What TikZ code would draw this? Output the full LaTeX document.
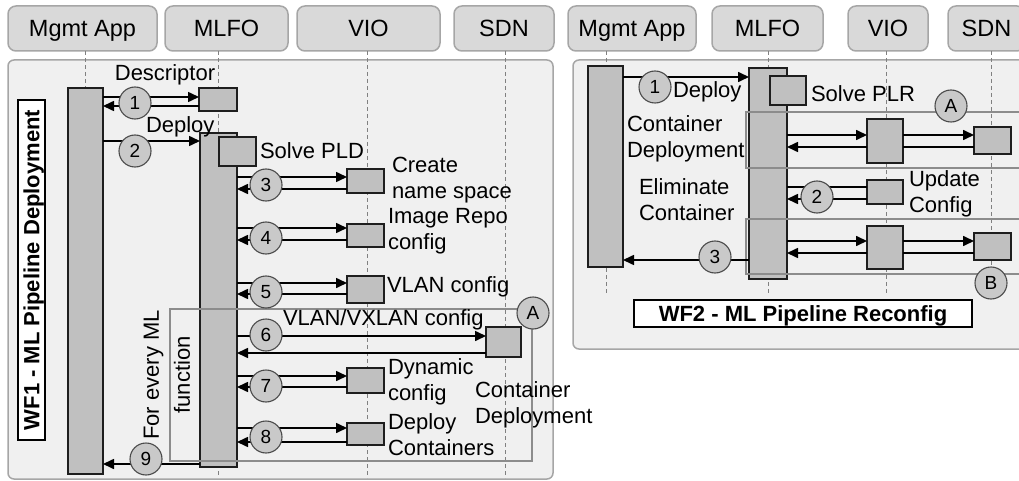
\documentclass[tikz,border=0pt]{standalone}
\usepackage{fontspec}
\setmainfont{Liberation Sans}
\usetikzlibrary{arrows.meta}
\definecolor{panelfill}{HTML}{F0F0F0}
\definecolor{headfill}{HTML}{D9D9D9}
\definecolor{headline}{HTML}{A6A6A6}
\definecolor{barfill}{HTML}{C0C0C0}
\definecolor{framegray}{HTML}{8C8C8C}
\definecolor{lifegray}{HTML}{808080}
\definecolor{inkline}{HTML}{1E1E1E}

\begin{document}
\begin{tikzpicture}[x=1pt,y=-1pt,
  every node/.style={font=\fontsize{22}{26}\selectfont, inner sep=0pt, outer sep=0pt},
  header/.style={draw=headline, fill=headfill, line width=1.5pt, rounded corners=8pt,
    anchor=north west, font=\fontsize{23.5}{26}\selectfont, text height=16.8pt, text depth=0pt},
  panel/.style={draw=headline, fill=panelfill, line width=1.5pt, rounded corners=6pt, anchor=north west},
  life/.style={draw=lifegray, line width=0.8pt, dash pattern=on 4pt off 3pt},
  bar/.style={draw=inkline, fill=barfill, line width=1.5pt, anchor=north west},
  frame/.style={draw=framegray, line width=1.2pt, anchor=north west},
  msg/.style={draw=black, line width=1.6pt, -{Triangle[length=11pt,width=10pt]}},
  plain/.style={draw=black, line width=1.6pt},
  num/.style={circle, draw=inkline!80, fill=barfill!85, line width=1.1pt, minimum size=32pt,
    font=\fontsize{19}{20}\selectfont},
  lbl/.style={anchor=west, align=left},
  title/.style={draw=black, fill=white, line width=1.4pt, font=\bfseries\fontsize{22}{24}\selectfont,
    text height=15.8pt, text depth=0pt}
]
\useasboundingbox (0,0) rectangle (1019,481);

% ---------------- panels ----------------
\node[panel, minimum width=545, minimum height=419] (pL) at (8,60) {};
\node[panel, minimum width=470, minimum height=289] (pR) at (573,60) {};

% ---------------- headers ----------------
\node[header, minimum width=149, minimum height=45] (hMgA) at (8,6) {Mgmt App};
\node[header, minimum width=123, minimum height=45] (hMlA) at (165,6) {MLFO};
\node[header, minimum width=143, minimum height=45] (hViA) at (297,6) {VIO};
\node[header, minimum width=100, minimum height=45] (hSdA) at (454,6) {SDN};
\node[header, minimum width=128, minimum height=45] (hMgB) at (568,6) {Mgmt App};
\node[header, minimum width=111, minimum height=45] (hMlB) at (712,6) {MLFO};
\node[header, minimum width=80, minimum height=45] (hViB) at (848,6) {VIO};
\node[header, minimum width=77, minimum height=45] (hSdB) at (948,6) {SDN};

% ---------------- lifelines ----------------
\coordinate (eMgA) at (85,474);
\coordinate (eMlA) at (218,476);
\coordinate (eViA) at (367,478);
\coordinate (eSdA) at (505,478);
\coordinate (eMgB) at (606,295);
\coordinate (eMlB) at (768,295);
\coordinate (eViB) at (886,295);
\coordinate (eSdB) at (991,270);
\draw[life] (hMgA.south -| eMgA) -- (eMgA);
\draw[life] (hMlA.south -| eMlA) -- (eMlA);
\draw[life] (hViA.south -| eViA) -- (eViA);
\draw[life] (hSdA.south -| eSdA) -- (eSdA);
\draw[life] (hMgB.south -| eMgB) -- (eMgB);
\draw[life] (hMlB.south -| eMlB) -- (eMlB);
\draw[life] (hViB.south -| eViB) -- (eViB);
\draw[life] (hSdB.south -| eSdB) -- (eSdB);

% ---------------- WF1: activations ----------------
\node[bar, minimum width=35, minimum height=386] (mgA) at (68,88) {};
\node[bar, minimum width=38, minimum height=23] (desc) at (199,88) {};
\node[bar, minimum width=37, minimum height=334] (mlA) at (200,133) {};
\node[frame, minimum width=362, minimum height=152] (loop) at (170,309) {};
\node[bar, minimum width=37, minimum height=29] (pld) at (219,137) {};
\node[bar, minimum width=37, minimum height=24] (v3) at (347,169) {};
\node[bar, minimum width=37, minimum height=23] (v4) at (347,224) {};
\node[bar, minimum width=37, minimum height=27] (v5) at (347,276) {};
\node[bar, minimum width=35, minimum height=30] (s6) at (486,327) {};
\node[bar, minimum width=37, minimum height=25] (v7) at (347,368) {};
\node[bar, minimum width=37, minimum height=22] (v8) at (347,423) {};

% ---------------- WF1: messages ----------------
\draw[msg] (mgA.east |- 0,97) -- (desc.west |- 0,97);
\draw[msg] (desc.west |- 0,106) -- (mgA.east |- 0,106);
\draw[msg] (mgA.east |- 0,141) -- (mlA.west |- 0,141);
\draw[msg] (mlA.east |- 0,177) -- (v3.west |- 0,177);
\draw[msg] (v3.west |- 0,189) -- (mlA.east |- 0,189);
\draw[msg] (mlA.east |- 0,228) -- (v4.west |- 0,228);
\draw[msg] (v4.west |- 0,240) -- (mlA.east |- 0,240);
\draw[msg] (mlA.east |- 0,283) -- (v5.west |- 0,283);
\draw[msg] (v5.west |- 0,294) -- (mlA.east |- 0,294);
\draw[msg] (mlA.east |- 0,336) -- (s6.west |- 0,336);
\draw[msg] (s6.west |- 0,353) -- (mlA.east |- 0,353);
\draw[msg] (mlA.east |- 0,376) -- (v7.west |- 0,376);
\draw[msg] (v7.west |- 0,387) -- (mlA.east |- 0,387);
\draw[msg] (mlA.east |- 0,428) -- (v8.west |- 0,428);
\draw[msg] (v8.west |- 0,442) -- (mlA.east |- 0,442);
\draw[msg] (mlA.west |- 0,464) -- (mgA.east |- 0,464);

\node[num] (n1) at (135,103) {1};
\node[num] (n2) at (135,151) {2};
\node[num] (n3) at (266,185) {3};
\node[num] (n4) at (266,238) {4};
\node[num] (n5) at (266,292) {5};
\node[num] (n6) at (266,335) {6};
\node[num] (n7) at (266,386) {7};
\node[num] (n8) at (266,437) {8};
\node[num] (n9) at (146,459) {9};
\node[num] (nA1) at (533,313) {A};

% ---------------- WF1: labels ----------------
\node (tDesc) at (165,75) {Descriptor};
\node[lbl] (tDep) at (146,127) {Deploy};
\node[lbl] (tPLD) at (260,151) {Solve PLD};
\node[lbl] (t3) at (392,180) {Create\\name space};
\node[lbl] (t4) at (388,231) {Image Repo\\config};
\node[lbl] (t5) at (387,287) {VLAN config};
\node[lbl] (t6) at (283,320) {VLAN/VXLAN config};
\node[lbl] (t7) at (388,382) {Dynamic\\config};
\node[lbl] (t8) at (388,435) {Deploy\\Containers};
\node[lbl] (tCD) at (475,405) {Container\\Deployment};
\node[rotate=90, align=center, font=\fontsize{22}{31}\selectfont] (tLoop) at (167,375) {For every ML\\function};
\node[title, rotate=90, minimum width=340, minimum height=27] (wf1) at (31.5,270) {WF1 - ML Pipeline Deployment};

% ---------------- WF2: activations ----------------
\node[bar, minimum width=35, minimum height=201] (mgB) at (588,66) {};
\node[bar, minimum width=38, minimum height=211] (mlB) at (749,68) {};
\node[bar, minimum width=36, minimum height=29] (plr) at (770,76) {};
\node[bar, minimum width=36, minimum height=44] (vA) at (867,119) {};
\node[bar, minimum width=37, minimum height=27] (sA) at (974,127) {};
\node[bar, minimum width=36, minimum height=24] (v2) at (867,180) {};
\node[bar, minimum width=36, minimum height=43] (vB) at (867,226) {};
\node[bar, minimum width=37, minimum height=27] (sB) at (974,233) {};
\node[frame, minimum width=290, minimum height=56] (gA) at (746,112) {};
\node[frame, minimum width=290, minimum height=55] (gB) at (746,219) {};

% ---------------- WF2: messages ----------------
\draw[msg] (mgB.east |- 0,77) -- (mlB.west |- 0,77);
\draw[msg] (mlB.east |- 0,135) -- (vA.west |- 0,135);
\draw[msg] (vA.west |- 0,147) -- (mlB.east |- 0,147);
\draw[msg] (vA.east |- 0,135) -- (sA.west |- 0,135);
\draw[plain] (sA.west |- 0,147) -- (vA.east |- 0,147);
\draw[plain] (mlB.east |- 0,187) -- (v2.west |- 0,187);
\draw[msg] (v2.west |- 0,199) -- (mlB.east |- 0,199);
\draw[msg] (mlB.east |- 0,241) -- (vB.west |- 0,241);
\draw[msg] (vB.west |- 0,253) -- (mlB.east |- 0,253);
\draw[msg] (vB.east |- 0,241) -- (sB.west |- 0,241);
\draw[plain] (sB.west |- 0,253) -- (vB.east |- 0,253);
\draw[msg] (mlB.west |- 0,260) -- (mgB.east |- 0,260);

\node[num] (m1) at (655,87) {1};
\node[num] (m2) at (817,197) {2};
\node[num] (m3) at (715,257) {3};
\node[num] (nA2) at (951,106) {A};
\node[num] (nB) at (991,283) {B};

% ---------------- WF2: labels ----------------
\node[lbl] (uDep) at (673,92) {Deploy};
\node[lbl] (uPLR) at (811,94) {Solve PLR};
\node[lbl] (uCD) at (627,139) {Container\\Deployment};
\node[lbl] (uEC) at (639,200) {Eliminate\\Container};
\node[lbl] (uUC) at (909,194) {Update\\Config};
\node[title, minimum width=338, minimum height=27] (wf2) at (803,313.5) {WF2 - ML Pipeline Reconfig};
\end{tikzpicture}
\end{document}
